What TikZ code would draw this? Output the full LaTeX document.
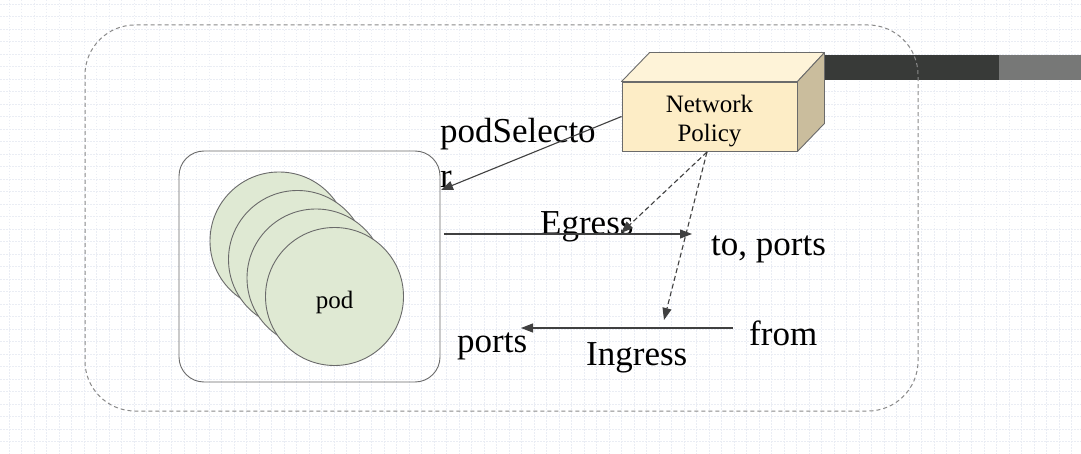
\documentclass[tikz,border=0pt]{standalone}
\usepackage{fontspec}
\setmainfont{Liberation Serif}
\usetikzlibrary{arrows.meta,calc}

\definecolor{gridc}{HTML}{EAEDF4}
\definecolor{linec}{HTML}{404040}
\definecolor{framec}{HTML}{8A8A8A}
\definecolor{podfill}{HTML}{DFE9D3}
\definecolor{podline}{HTML}{6A6A6A}
\definecolor{npfront}{HTML}{FDEDC6}
\definecolor{nptop}{HTML}{FEF3D8}
\definecolor{npside}{HTML}{CABD9D}
\definecolor{npline}{HTML}{6B6B6B}
\definecolor{bardark}{HTML}{383A38}
\definecolor{barlight}{HTML}{777877}

\tikzset{
  bigtext/.style={font=\fontsize{35}{45}\selectfont, text=black, inner sep=0pt},
  podcircle/.style={circle, draw=podline, fill=podfill, line width=0.9pt, minimum size=138pt, inner sep=0pt},
  flow/.style={draw=linec, line width=1.1pt, -{Triangle[length=12pt,width=9pt]}},
  policylink/.style={draw=linec, line width=1.1pt, dash pattern=on 5pt off 3pt, -{Triangle[length=12pt,width=9pt]}},
}

\begin{document}
\begin{tikzpicture}[x=1pt, y=-1pt]
  \useasboundingbox (0,0) rectangle (1081,454);
  \fill[white] (0,0) rectangle (1081,454);

  % faint dotted background grid
  \foreach \gx in {9.2,21.7,...,1081} {
    \draw[gridc, line width=0.7pt, dash pattern=on 1.5pt off 1.5pt] (\gx,0) -- (\gx,454);
  }
  \foreach \gy in {4.2,16.7,...,454} {
    \draw[gridc, line width=0.7pt, dash pattern=on 1.5pt off 1.5pt] (0,\gy) -- (1081,\gy);
  }

  % header bar
  \fill[bardark] (824,55) rectangle (999,80);
  \fill[barlight] (999,55) rectangle (1081,80);

  % namespace frame
  \draw[framec, line width=1pt, dash pattern=on 4pt off 3pt, rounded corners=50pt]
    (85,25) rectangle (918,411);

  % pod group
  \node[draw=podline, line width=0.9pt, rounded corners=25pt, minimum width=261pt,
        minimum height=231pt, inner sep=0pt] (group) at (309.5,266.5) {};
  \node[podcircle] (pod1) at (279,241) {};
  \node[podcircle] (pod2) at (297.5,259.5) {};
  \node[podcircle] (pod3) at (316,278) {};
  \node[podcircle] (pod4) at (334.5,296.5) {};
  \node[font=\fontsize{25}{28}\selectfont, anchor=base, inner sep=0pt] (podlabel) at (334.5,308) {pod};

  % NetworkPolicy box (front face plus top and side faces)
  \node[draw=npline, fill=npfront, line width=0.9pt, minimum width=175pt, minimum height=69pt,
        inner sep=0pt] (np) at (709.5,116.5) {};
  \node[align=center, font=\fontsize{25}{29}\selectfont, inner sep=0pt, anchor=base]
    (nplabel) at (709.5,113) {\begin{tabular}[t]{@{}c@{}}Network\\Policy\end{tabular}};
  \filldraw[draw=npline, fill=nptop, line width=0.9pt, line join=round]
    (np.north west) -- ++(28,-29) -- ($(np.north east)+(27,-29)$) -- (np.north east) -- cycle;
  \filldraw[draw=npline, fill=npside, line width=0.9pt, line join=round]
    (np.north east) -- ++(27,-29) -- ($(np.south east)+(27,-28)$) -- (np.south east) -- cycle;

  % labels
  \node[bigtext, anchor=base west] (sel) at (440,143)
    {\begin{tabular}[t]{@{}l@{}}podSelecto\\r\end{tabular}};
  \node[bigtext, anchor=base west] (egress) at (540,235) {Egress};
  \node[bigtext, anchor=base west] (to) at (711,256) {to, ports};
  \node[bigtext, anchor=base west] (from) at (749,345) {from};
  \node[bigtext, anchor=base west] (ports) at (457,352) {ports};
  \node[bigtext, anchor=base west] (ingress) at (586,365) {Ingress};

  % connector end points
  \coordinate (selTip) at (441,190);
  \coordinate (egStart) at (444,234);
  \coordinate (egTip) at (692,234);
  \coordinate (inStart) at (733,328);
  \coordinate (inTip) at (521,328);
  \coordinate (npFoot) at (707,152);
  \coordinate (egDash) at (621,233);
  \coordinate (inDash) at (664,320);

  % connectors
  \draw[flow] (np.west) -- (selTip);
  \draw[flow] (egStart) -- (egTip);
  \draw[flow] (inStart) -- (inTip);
  \draw[policylink] (npFoot) -- (egDash);
  \draw[policylink] (npFoot) -- (inDash);
\end{tikzpicture}
\end{document}
